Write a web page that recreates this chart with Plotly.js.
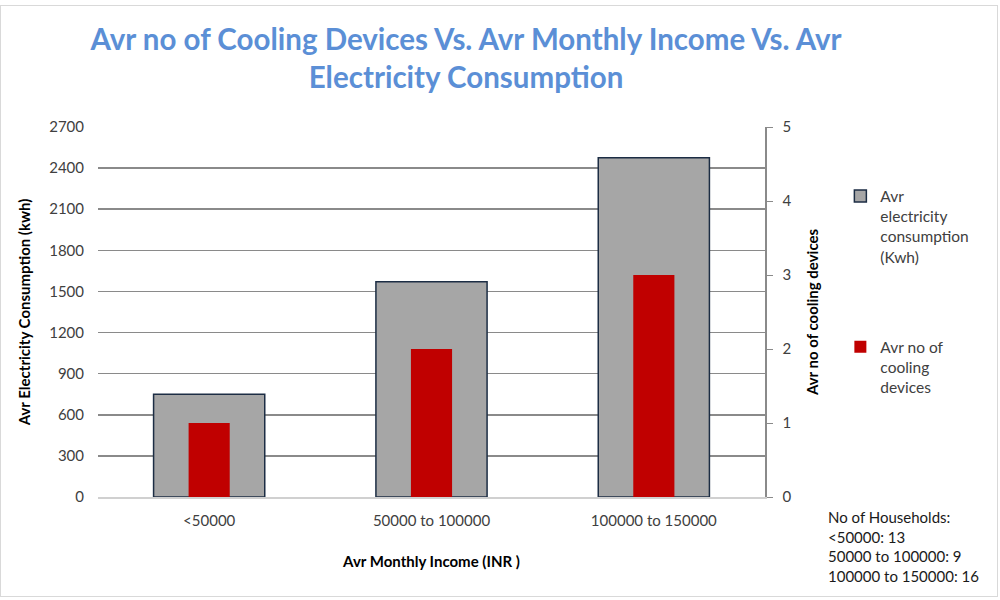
<!DOCTYPE html>
<html>
<head>
<meta charset="utf-8">
<script src="https://cdn.plot.ly/plotly-3.0.1.min.js"></script>
<style>
  html, body { margin: 0; padding: 0; background: #fff; }
  #wrap { position: relative; width: 1000px; height: 600px; }
  #chart { position: absolute; left: 0; top: 0; width: 1000px; height: 600px; }
  #frame { position: absolute; left: 0; top: 5px; width: 998px; height: 592px; border: 1px solid #d9d9d9; box-sizing: border-box; pointer-events: none; }
</style>
</head>
<body>
<div id="wrap">
  <div id="chart"></div>
  <div id="frame"></div>
</div>
<script>
const categories = ['<50000', '50000 to 100000', '100000 to 150000'];
const electricityKwh = [750, 1570, 2475];
const coolingDevices = [1, 2, 3];
const households = [13, 9, 16];
const seriesNames = ['Avr<br>electricity<br>consumption<br>(Kwh)', 'Avr no of<br>cooling<br>devices'];

const FONT = 'Lato, "Open Sans", sans-serif';

const traces = [
  {
    type: 'bar',
    x: categories,
    y: electricityKwh,
    name: seriesNames[0],
    legendgroup: 'a',
    width: categories.map(() => 0.5),
    marker: { color: '#a6a6a6', line: { color: '#1c2d44', width: 1.5 } },
    yaxis: 'y',
    hoverinfo: 'x+y'
  },
  {
    type: 'bar',
    x: categories,
    y: coolingDevices,
    name: seriesNames[1],
    legendgroup: 'b',
    width: categories.map(() => 0.185),
    marker: { color: '#c00000', line: { width: 0 } },
    yaxis: 'y2',
    hoverinfo: 'x+y'
  }
];

const noteLines = ['No of Households:'].concat(categories.map((c, i) => c + ': ' + households[i]));

const layout = {
  width: 1000,
  height: 600,
  paper_bgcolor: '#ffffff',
  plot_bgcolor: '#ffffff',
  barmode: 'overlay',
  font: { family: FONT, size: 15, color: '#404040' },
  margin: { l: 98, r: 235, t: 127, b: 103, autoexpand: false },
  title: {
    text: 'Avr no of Cooling Devices Vs. Avr Monthly Income Vs. Avr<br>Electricity Consumption',
    font: { family: FONT, size: 29.5, color: '#5b8fd6', weight: 'bold' },
    x: 0.466, xref: 'container', xanchor: 'center',
    y: 0.917, yref: 'container', yanchor: 'top'
  },
  xaxis: {
    type: 'category',
    range: [-0.5, 2.5],
    showline: true,
    linecolor: '#d0d0d0',
    linewidth: 1.5,
    ticks: '',
    showgrid: false,
    ticklabelstandoff: 9,
    tickfont: { family: FONT, size: 15, color: '#404040' },
    title: { text: 'Avr Monthly Income (INR )', font: { family: FONT, size: 15, color: '#000', weight: 'bold' }, standoff: 29 },
    fixedrange: true
  },
  yaxis: {
    range: [0, 2700],
    dtick: 300,
    tick0: 0,
    showgrid: true,
    gridcolor: '#8a8a8a',
    gridwidth: 1.5,
    zeroline: false,
    showline: false,
    ticks: '',
    ticklabelstandoff: 13,
    tickfont: { family: FONT, size: 15, color: '#404040' },
    title: { text: 'Avr Electricity Consumption (kwh)', font: { family: FONT, size: 15, color: '#000', weight: 'bold' }, standoff: 14 },
    fixedrange: true
  },
  yaxis2: {
    overlaying: 'y',
    side: 'right',
    range: [0, 5],
    dtick: 1,
    tick0: 0,
    showgrid: false,
    zeroline: false,
    showline: true,
    linecolor: '#8a8a8a',
    linewidth: 1.5,
    ticks: 'outside',
    ticklen: 6,
    tickcolor: '#8a8a8a',
    ticklabelstandoff: 7,
    tickfont: { family: FONT, size: 15, color: '#404040' },
    title: { text: 'Avr no of cooling devices', font: { family: FONT, size: 15, color: '#000', weight: 'bold' }, standoff: 17 },
    fixedrange: true
  },
  legend: {
    x: 1.113, xanchor: 'left',
    y: 0.858, yanchor: 'top',
    traceorder: 'grouped',
    tracegroupgap: 67,
    valign: 'top',
    font: { family: FONT, size: 15.5, color: '#404040' },
    itemwidth: 30,
    bgcolor: 'rgba(0,0,0,0)'
  },
  annotations: [
    {
      text: noteLines.join('<br>'),
      xref: 'paper', yref: 'paper',
      x: 1.091, y: -0.024,
      xanchor: 'left', yanchor: 'top',
      align: 'left',
      showarrow: false,
      font: { family: FONT, size: 15, color: '#1a1a1a' }
    }
  ]
};

Plotly.newPlot('chart', traces, layout, { displayModeBar: false, staticPlot: true });
</script>
</body>
</html>
